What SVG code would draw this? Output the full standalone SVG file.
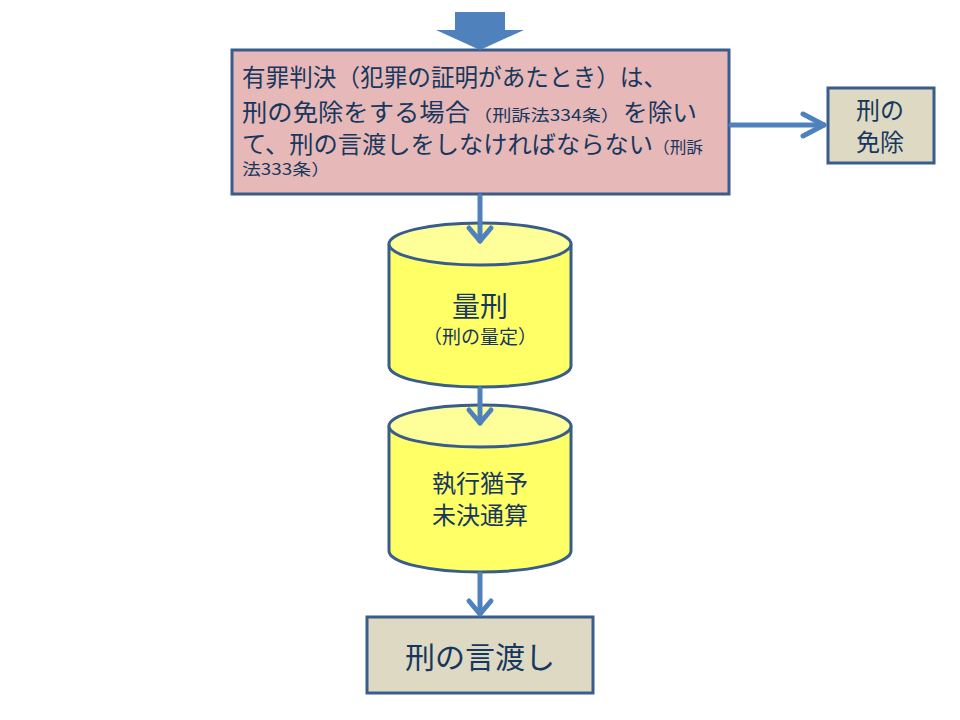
<svg xmlns="http://www.w3.org/2000/svg" width="960" height="720" viewBox="0 0 960 720">
<style>
text{font-family:"Noto Sans CJK JP","Noto Sans CJK SC",sans-serif;fill:#17375E}
.box{stroke:#385D8A;stroke-width:3}
.conn{stroke:#4F81BD;stroke-width:5;fill:none;stroke-linecap:round;stroke-linejoin:round}
.sm{font-size:16px}
</style>
<rect width="960" height="720" fill="#FFFFFF"/>
<g id="main">
<rect class="box" x="232" y="50" width="497" height="144" fill="#E6B9B8"/>
<text x="242" y="86" font-size="24" textLength="425" lengthAdjust="spacingAndGlyphs">有罪判決（犯罪の証明があたとき）は、</text>
<text y="121" font-size="24"><tspan x="242" textLength="228" lengthAdjust="spacingAndGlyphs">刑の免除をする場合</tspan><tspan class="sm" x="473" textLength="147" lengthAdjust="spacingAndGlyphs">（刑訴法334条）</tspan><tspan x="623" textLength="74" lengthAdjust="spacingAndGlyphs">を除い</tspan></text>
<text y="153" font-size="24"><tspan x="242" textLength="411" lengthAdjust="spacingAndGlyphs">て、刑の言渡しをしなければならない</tspan><tspan class="sm" x="653" textLength="50" lengthAdjust="spacingAndGlyphs">（刑訴</tspan></text>
<text class="sm" x="242" y="175" textLength="88" lengthAdjust="spacingAndGlyphs">法333条）</text>
</g>
<g id="exempt">
<rect class="box" x="828" y="88" width="106" height="75" fill="#DDD9C3"/>
<text x="880" y="119" font-size="24" text-anchor="middle">刑の</text>
<text x="880" y="151" font-size="24" text-anchor="middle">免除</text>
</g>
<g id="sentencing">
<path class="box" d="M389,244 L389,366 A91,21 0 0 0 571,366 L571,244" fill="#FFFF66"/>
<ellipse class="box" cx="480" cy="244" rx="91" ry="21" fill="#FFFF99"/>
<text x="480" y="317" font-size="28" text-anchor="middle">量刑</text>
<text x="480" y="344" font-size="19" text-anchor="middle">（刑の量定）</text>
</g>
<g id="suspension">
<path class="box" d="M389,426 L389,551 A91,21 0 0 0 571,551 L571,426" fill="#FFFF66"/>
<ellipse class="box" cx="480" cy="426" rx="91" ry="21" fill="#FFFF99"/>
<text x="480" y="492" font-size="24" text-anchor="middle">執行猶予</text>
<text x="480" y="524" font-size="24" text-anchor="middle">未決通算</text>
</g>
<g id="pronouncement">
<rect class="box" x="367" y="617" width="226" height="76" fill="#DDD9C3"/>
<text x="480" y="668" font-size="30" text-anchor="middle">刑の言渡し</text>
</g>
<g id="connectors">
<polygon points="455,12 505,12 505,30 524,30 480,50 436,30 455,30" fill="#4F81BD"/>
<line class="conn" x1="480" y1="196" x2="480" y2="241"/>
<polyline class="conn" points="469,228 480,241 491,228"/>
<line class="conn" x1="480" y1="389" x2="480" y2="423"/>
<polyline class="conn" points="469,410 480,423 491,410"/>
<line class="conn" x1="480" y1="574" x2="480" y2="614"/>
<polyline class="conn" points="469,601 480,614 491,601"/>
<line class="conn" x1="731" y1="125" x2="824" y2="125"/>
<polyline class="conn" points="803,114 824,125 803,136"/>
</g>
</svg>
